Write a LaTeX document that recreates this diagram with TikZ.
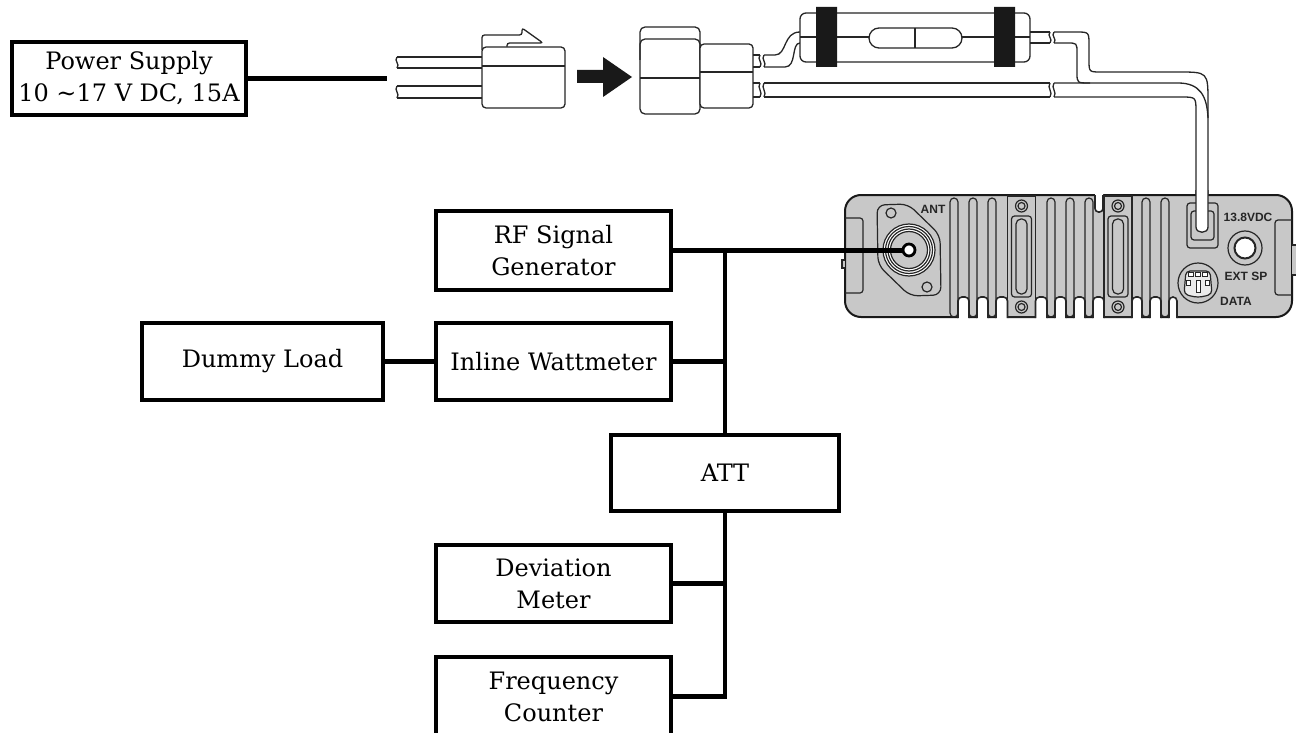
\documentclass[tikz,border=0pt]{standalone}
\usepackage{fontspec}
\setmainfont{DejaVu Serif}
\newfontfamily\lblfont{Liberation Sans}
\definecolor{bodygrey}{HTML}{C8C8C8}
\newcommand{\cablebreak}[3]{\draw[wire] (#1,#2) .. controls ({#1-3.5},{#2+0.35*(#3-#2)}) and ({#1+3.5},{#2+0.65*(#3-#2)}) .. (#1,#3);}
\begin{document}
\begin{tikzpicture}[x=1pt,y=-1pt,
  box/.style={draw, line width=3.6pt, align=center, inner sep=0pt, font=\fontsize{24}{32}\selectfont},
  conn/.style={line width=4.2pt},
  wire/.style={line width=1.3pt, draw=black!85},
  bline/.style={line width=1.2pt, draw=black!85},
  lbl/.style={font=\lblfont\bfseries\fontsize{12}{14}\selectfont, inner sep=0pt, text=black!85}]
\useasboundingbox (0,0) rectangle (1296,733);
\clip (0,0) rectangle (1296,733);

% ---------- boxes ----------
\node[box, minimum width=234.4pt, minimum height=73.4pt] (ps) at (129,78.5) {Power Supply\\10 \textasciitilde17 V DC, 15A};
\node[box, minimum width=235.4pt, minimum height=79.4pt] (rf) at (553.5,250.5) {RF Signal\\Generator};
\node[box, minimum width=235.4pt, minimum height=77.4pt] (wm) at (553.5,361.5) {Inline Wattmeter};
\node[box, minimum width=241.4pt, minimum height=77.4pt] (dl) at (262.5,361.5) {Dummy Load};
\node[box, minimum width=228.4pt, minimum height=76.4pt] (att) at (725,473) {ATT};
\node[box, minimum width=235.4pt, minimum height=77.4pt] (dm) at (553.5,583.5) {Deviation\\Meter};
\node[box, minimum width=235.4pt, minimum height=79.4pt] (fc) at (553.5,696.5) {Frequency\\Counter};

% ---------- left cables and plug ----------
\coordinate (psend) at (387,80);
\draw[wire] (397,57) -- (482,57) (397,68) -- (482,68) (397,86) -- (482,86) (397,98) -- (482,98);
\cablebreak{397}{57}{68}
\cablebreak{397}{86}{98}
\draw[wire, fill=white, rounded corners=2.5] (482,50) -- (482,35) -- (522,35) -- (522,28) -- (543,43) -- (507,43) -- (507,50);
\draw[wire, fill=white, rounded corners=4] (482,47) rectangle (565,108);
\draw[wire] (482,66) -- (565,66);
\fill[black!90] (577,70) -- (603,70) -- (603,57) -- (632,77) -- (603,97) -- (603,83) -- (577,83) -- cycle;

% ---------- right connector ----------
\draw[wire, fill=white, rounded corners=5] (640,27) rectangle (700,114);
\draw[wire, rounded corners=5] (640,60) -- (640,39) -- (700,39) -- (700,60);
\draw[wire] (640,78) -- (700,78);
\draw[wire, fill=white, rounded corners=4] (700,44) rectangle (753,108);
\draw[wire] (700,72) -- (753,72);

% cables out of connector
\draw[wire] (753,55) -- (760,55) (753,67) -- (760,67) (753,83) -- (760,83) (753,97) -- (760,97);
\cablebreak{760}{55}{67}
\cablebreak{764}{55}{67}
\cablebreak{760}{83}{97}
\cablebreak{764}{83}{97}
\draw[wire] (764,55) -- (775,55) .. controls (787,55) and (783,32) .. (800,32);
\draw[wire] (764,67) -- (785,67) .. controls (797,67) and (791,43) .. (800,43);
\draw[wire] (764,83) -- (1050,83) (764,97) -- (1050,97);

% ---------- fuse holder ----------
\draw[wire, fill=white, rounded corners=6] (800,13) rectangle (1030,62);
\draw[wire] (800,37) -- (869,37) (962,37) -- (1030,37);
\draw[wire, fill=white, rounded corners=10] (869,28) rectangle (962,48);
\draw[wire] (915,28) -- (915,48);
\fill[black!90] (816,7) rectangle (837,67) (994,7) rectangle (1015,67);
\draw[wire] (1030,32) -- (1050,32) (1030,43) -- (1050,43);
\cablebreak{1050}{32}{43}
\cablebreak{1054}{32}{43}
\cablebreak{1050}{83}{97}
\cablebreak{1054}{83}{97}

% cable to radio (upper part)
\draw[wire] (1054,32) -- (1076,32) .. controls (1089,32) .. (1089,45) -- (1089,60) .. controls (1089,72) .. (1101,72) -- (1178,72) .. controls (1208,72) .. (1208,102) -- (1208,200);
\draw[wire] (1054,97) -- (1181,97) .. controls (1196,97) .. (1196,112) -- (1196,200);
\draw[wire] (1054,43) -- (1067,43) .. controls (1077,43) .. (1077,53) -- (1077,73) .. controls (1077,83) .. (1090,83);
\draw[wire] (1054,83) -- (1178,83) .. controls (1200,83) and (1207,96) .. (1208,118);

% ---------- radio body ----------
\filldraw[fill=bodygrey, draw=black!90, line width=2pt, rounded corners=16] (845,195) rectangle (1292,317);
\draw[bline, fill=bodygrey] (845,260) -- (842,260) -- (842,268) -- (845,268);
\draw[bline, fill=bodygrey] (1292,245) -- (1297,245) -- (1297,275) -- (1292,275);
\draw[bline, rounded corners=3] (845,218) -- (863,218) -- (863,293) -- (845,293);
\draw[bline, rounded corners=3] (1292,220) -- (1275,220) -- (1275,295) -- (1292,295);

% fins
\foreach \l/\r in {950/958, 969/977, 988/996, 1047/1055, 1066/1074, 1085/1093, 1142/1150, 1161/1169}
  \draw[bline, rounded corners=4] (\l,198) rectangle (\r,317);
% mounting blocks
\foreach \c in {1021.5, 1118}{
  \draw[bline] (\c-14,196) rectangle (\c+14,317);
  \draw[bline] (\c,206) circle[radius=6];
  \draw[bline] (\c,206) circle[radius=3.5];
  \draw[bline] (\c,307) circle[radius=6];
  \draw[bline] (\c,307) circle[radius=3.5];
  \draw[bline, rounded corners=3] (\c-10,216) rectangle (\c+10,297);
  \draw[bline, rounded corners=5] (\c-5.5,219) rectangle (\c+5.5,294);
}
% bottom gaps between fins
\foreach \a/\b in {958/969, 977/988, 996/1007.5, 1035.5/1047, 1055/1066, 1074/1085, 1093/1104, 1132/1142, 1150/1161, 1169/1177}{
  \fill[white, rounded corners=4] (\a,323) -- (\a,297) -- (\b,297) -- (\b,323) -- cycle;
  \draw[bline, line width=1.6pt, rounded corners=4] (\a,318) -- (\a,297) -- (\b,297) -- (\b,318);
}
% top notch
\fill[white, rounded corners=3.5] (1095,190) -- (1095,212) -- (1103,212) -- (1103,190) -- cycle;
\draw[bline, line width=1.6pt, rounded corners=3.5] (1095,195) -- (1095,212) -- (1103,212) -- (1103,195);

% ANT flange and connector
\draw[bline, rounded corners=8] (877,205) -- (908,204) -- (940,235) -- (941,295) -- (910,296) -- (878,265) -- cycle;
\draw[bline] (891,213) circle[radius=5];
\draw[bline] (927,287) circle[radius=5];
\filldraw[bline, fill=white] (909,250) circle[radius=26];
\draw[bline] (909,250) circle[radius=23.5];
\draw[bline] (909,250) circle[radius=21];
\filldraw[bline, fill=bodygrey] (909,250) circle[radius=18.5];
\node[circle, draw, line width=2.8pt, fill=white, minimum size=12pt, inner sep=0pt] (pin) at (909,250) {};
\node[lbl] (antl) at (933,209) {ANT};

% DC socket
\filldraw[bline, fill=bodygrey, rounded corners=3] (1187,203) rectangle (1218,248);
\draw[bline, rounded corners=3] (1191,211) rectangle (1214,240);
\fill[white] (1196,190) -- (1196,227) .. controls (1196,234) and (1208,234) .. (1208,227) -- (1208,190) -- cycle;
\draw[wire] (1196,190) -- (1196,227) .. controls (1196,234) and (1208,234) .. (1208,227) -- (1208,190);
\node[lbl] (dcl) at (1248,217) {13.8VDC};

% EXT SP jack
\filldraw[bline, fill=bodygrey] (1245,248) circle[radius=17];
\filldraw[line width=2pt, draw=black!85, fill=white] (1245,248) circle[radius=10.5];
\node[lbl] (spl) at (1246,276) {EXT SP};

% DATA socket
\filldraw[bline, fill=bodygrey] (1198,283) circle[radius=20];
\filldraw[bline, fill=black!8, rounded corners=4] (1186,271) -- (1210,271) -- (1212,294) -- (1202,297) -- (1194,297) -- (1184,294) -- cycle;
\foreach \px/\py in {1191/274.5, 1198/274.5, 1205/274.5, 1188.5/283, 1207.5/283}
  \draw[line width=0.9pt, draw=black!85, fill=white] (\px-2.2,\py-2.2) rectangle (\px+2.2,\py+2.2);
\draw[line width=0.9pt, draw=black!85, fill=white] (1196,280) rectangle (1200,292);
\node[lbl] (datal) at (1236,301) {DATA};

% ---------- connectors ----------
\draw[conn] (ps.east) -- (ps.east -| psend);
\draw[conn] (rf.east) -- (rf.east -| pin.west);
\draw[conn] (rf.east -| att.north) -- (att.north);
\draw[conn] (wm.east) -- (wm.east -| att.north);
\draw[conn] (dl.east) -- (wm.west);
\draw[conn] (att.south) |- (fc.east);
\draw[conn] (dm.east) -- (dm.east -| att.south);
\end{tikzpicture}
\end{document}
